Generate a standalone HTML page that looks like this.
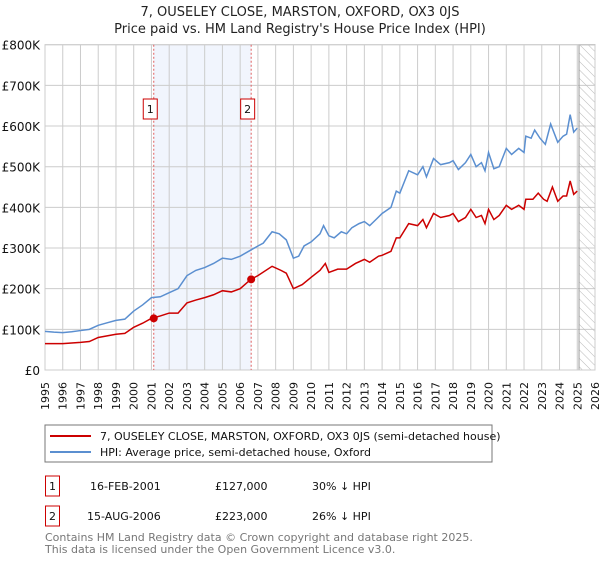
<!DOCTYPE html>
<html><head><meta charset="utf-8"><style>
body{margin:0;background:#fff;font-family:"DejaVu Sans","Liberation Sans",sans-serif;}
svg text{font-family:"DejaVu Sans","Liberation Sans",sans-serif;}
</style></head><body>
<svg id="c" width="600" height="560" xmlns="http://www.w3.org/2000/svg">
<defs><pattern id="hatch" width="6" height="6" patternUnits="userSpaceOnUse" patternTransform="rotate(-45)"><line x1="0" y1="0" x2="0" y2="6" stroke="#bbb" stroke-width="1"/></pattern></defs>
<text x="300" y="16" text-anchor="middle" font-size="13" fill="#222">7, OUSELEY CLOSE, MARSTON, OXFORD, OX3 0JS</text>
<text x="300" y="33" text-anchor="middle" font-size="13" fill="#222">Price paid vs. HM Land Registry's House Price Index (HPI)</text>
<g id="plot"></g>
<rect x="45" y="425" width="447" height="37" fill="#fff" stroke="#777"/>
<line x1="50" y1="436" x2="91" y2="436" stroke="#cc0000" stroke-width="2"/>
<text x="100" y="440" font-size="11" fill="#111">7, OUSELEY CLOSE, MARSTON, OXFORD, OX3 0JS (semi-detached house)</text>
<line x1="50" y1="452" x2="91" y2="452" stroke="#5b8fd0" stroke-width="2"/>
<text x="100" y="456" font-size="11" fill="#111">HPI: Average price, semi-detached house, Oxford</text>
<g font-size="11" fill="#111">
<rect x="45.5" y="476" width="14" height="20" fill="none" stroke="#cc0000"/>
<text x="52.5" y="490" text-anchor="middle">1</text>
<text x="90" y="490">16-FEB-2001</text>
<text x="215" y="490">£127,000</text>
<text x="312" y="490">30% ↓ HPI</text>
<rect x="45.5" y="506" width="14" height="20" fill="none" stroke="#cc0000"/>
<text x="52.5" y="520" text-anchor="middle">2</text>
<text x="87" y="520">15-AUG-2006</text>
<text x="215" y="520">£223,000</text>
<text x="312" y="520">26% ↓ HPI</text>
</g>
<text x="45" y="541" font-size="11" fill="#777">Contains HM Land Registry data © Crown copyright and database right 2025.</text>
<text x="45" y="553" font-size="11" fill="#777">This data is licensed under the Open Government Licence v3.0.</text>
</svg>
<script>
const yTicks=[0,100,200,300,400,500,600,700,800];
const yTickLabels=["£0","£100K","£200K","£300K","£400K","£500K","£600K","£700K","£800K"];
const xYears=[1995,1996,1997,1998,1999,2000,2001,2002,2003,2004,2005,2006,2007,2008,2009,2010,2011,2012,2013,2014,2015,2016,2017,2018,2019,2020,2021,2022,2023,2024,2025,2026];
const hpiT=[1995,1995.5,1996,1996.5,1997,1997.5,1998,1998.5,1999,1999.5,2000,2000.5,2001,2001.5,2002,2002.5,2003,2003.5,2004,2004.5,2005,2005.5,2006,2006.6,2007,2007.3,2007.8,2008.2,2008.6,2009,2009.3,2009.6,2010,2010.5,2010.7,2011,2011.3,2011.7,2012,2012.3,2012.7,2013,2013.3,2013.7,2014,2014.5,2014.8,2015,2015.5,2016,2016.3,2016.5,2016.9,2017.3,2017.8,2018,2018.3,2018.7,2019,2019.3,2019.6,2019.8,2020,2020.3,2020.6,2021,2021.3,2021.7,2022,2022.1,2022.4,2022.6,2022.9,2023.2,2023.5,2023.9,2024.2,2024.4,2024.6,2024.8,2025];
const hpiV=[95,93,92,94,97,100,110,116,122,125,145,160,178,180,190,200,232,245,252,262,275,272,280,295,305,312,340,335,320,275,280,305,315,335,355,330,325,340,335,350,360,365,355,372,385,400,440,435,490,480,500,475,520,505,510,515,493,510,530,500,510,490,535,495,500,545,530,545,535,575,570,590,570,555,605,560,575,580,628,585,595];
const ppT=[1995,1996,1997,1997.5,1998,1999,1999.5,2000,2000.5,2001,2001.5,2002,2002.5,2003,2003.5,2004,2004.5,2005,2005.5,2006,2006.6,2007,2007.8,2008.3,2008.6,2009,2009.5,2010,2010.5,2010.8,2011,2011.5,2012,2012.5,2013,2013.3,2013.8,2014,2014.5,2014.8,2015,2015.5,2016,2016.3,2016.5,2016.9,2017.3,2017.8,2018,2018.3,2018.7,2019,2019.3,2019.6,2019.8,2020,2020.3,2020.6,2021,2021.3,2021.7,2022,2022.1,2022.5,2022.8,2023.1,2023.3,2023.6,2023.9,2024.2,2024.4,2024.6,2024.8,2025];
const ppV=[65,65,68,70,80,88,90,105,115,127,133,140,140,165,172,178,185,195,192,200,223,232,255,245,238,200,210,228,245,262,240,248,248,262,272,265,280,282,292,325,325,360,355,370,350,385,375,380,385,365,375,395,375,380,360,395,370,380,405,395,405,395,420,420,435,420,415,450,415,428,428,465,432,440];
const saleT=[2001.13,2006.62];
const saleV=[127,223];
const saleLabels=["1","2"];
const X0=45,X1=595,Y0=370,Y1=44.7,T0=1995,T1=2026,VMAX=800,HATCH=2025.1;
const xs=t=>X0+(t-T0)/(T1-T0)*(X1-X0);
const ys=v=>Y0-(v/VMAX)*(Y0-Y1);
const NS="http://www.w3.org/2000/svg";
const g=document.getElementById('plot');
function mk(tag,attrs){const e=document.createElementNS(NS,tag);for(const k in attrs)e.setAttribute(k,attrs[k]);g.appendChild(e);return e;}
let e=mk('rect',{x:xs(saleT[0]),y:Y1,width:xs(saleT[1])-xs(saleT[0]),height:Y0-Y1,fill:'#eef3fc',opacity:0.8});


xYears.forEach(yr=>{const l=mk('line',{x1:xs(yr),x2:xs(yr),y1:Y1,y2:Y0,stroke:'#ccc','stroke-width':1});


const t=mk('text',{transform:`translate(${xs(yr)+4},382) rotate(-90)`,'text-anchor':'end','font-size':11,fill:'#111'});t.textContent=yr;

});
yTicks.forEach((v,i)=>{const l=mk('line',{x1:X0,x2:X1,y1:ys(v),y2:ys(v),stroke:'#ccc','stroke-width':1});


const t=mk('text',{x:X0-5,y:ys(v)+5,'text-anchor':'end','font-size':12,fill:'#111'});t.textContent=yTickLabels[i];

});
e=mk('rect',{x:xs(HATCH),y:Y1,width:X1-xs(HATCH),height:Y0-Y1,fill:'url(#hatch)',stroke:'#999'});


e=mk('rect',{x:X0,y:Y1,width:X1-X0,height:Y0-Y1,fill:'none',stroke:'#ccc'});


saleT.forEach((t,i)=>{const l=mk('line',{x1:xs(t),x2:xs(t),y1:Y1,y2:Y0,stroke:'#e06060','stroke-dasharray':'2,2','stroke-width':1});


const r=mk('rect',{x:xs(t)-10.5,y:99,width:14,height:20,fill:'#fff',stroke:'#cc0000'});


const tx=mk('text',{x:xs(t)-3.5,y:113,'text-anchor':'middle','font-size':11,fill:'#111'});tx.textContent=saleLabels[i];

});
e=mk('polyline',{points:hpiT.map((t,i)=>xs(t)+','+ys(hpiV[i])).join(' '),fill:'none',stroke:'#5b8fd0','stroke-width':1.5});


e=mk('polyline',{points:ppT.map((t,i)=>xs(t)+','+ys(ppV[i])).join(' '),fill:'none',stroke:'#cc0000','stroke-width':1.5});


saleT.forEach((t,i)=>{const c=mk('circle',{cx:xs(t),cy:ys(saleV[i]),r:4,fill:'#cc0000'});

});
</script>
</body></html>
